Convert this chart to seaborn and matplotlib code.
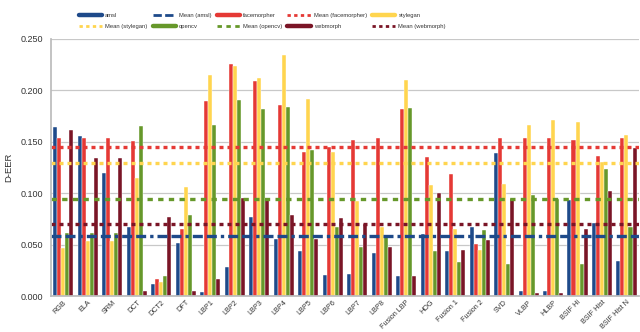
import matplotlib
matplotlib.use("Agg")
import matplotlib.pyplot as plt
import seaborn as sns
import pandas as pd
import numpy as np
from matplotlib.lines import Line2D

categories = ["RGB", "ELA", "SRM", "DCT", "DCT2", "DFT", "LBP1", "LBP2", "LBP3", "LBP4",
              "LBP5", "LBP6", "LBP7", "LBP8", "Fusion LBP", "HOG", "Fusion 1", "Fusion 2",
              "SVD", "VLBP", "HLBP", "BSIF Hi", "BSIF Hist", "BSIF Hist N"]

amsl = [0.164, 0.156, 0.120, 0.067, 0.012, 0.052, 0.004, 0.028, 0.077, 0.056,
        0.044, 0.021, 0.022, 0.042, 0.020, 0.060, 0.044, 0.067,
        0.139, 0.005, 0.005, 0.093, 0.071, 0.034]
facemorpher = [0.154, 0.154, 0.154, 0.151, 0.017, 0.065, 0.190, 0.226, 0.209, 0.186,
               0.140, 0.145, 0.152, 0.154, 0.182, 0.135, 0.119, 0.051,
               0.154, 0.154, 0.154, 0.152, 0.136, 0.154]
stylegan = [0.047, 0.054, 0.054, 0.115, 0.014, 0.106, 0.215, 0.224, 0.212, 0.234,
            0.192, 0.140, 0.092, 0.067, 0.210, 0.108, 0.065, 0.045,
            0.109, 0.166, 0.171, 0.169, 0.130, 0.157]
opencv = [0.061, 0.061, 0.061, 0.165, 0.020, 0.079, 0.166, 0.191, 0.182, 0.184,
          0.142, 0.067, 0.048, 0.059, 0.183, 0.044, 0.033, 0.064,
          0.031, 0.098, 0.094, 0.031, 0.124, 0.067]
webmorph = [0.161, 0.134, 0.134, 0.005, 0.077, 0.005, 0.017, 0.095, 0.095, 0.079,
            0.056, 0.076, 0.070, 0.048, 0.020, 0.100, 0.045, 0.055,
            0.094, 0.003, 0.003, 0.065, 0.102, 0.144]

series_names = ["amsl", "facemorpher", "stylegan", "opencv", "webmorph"]
series_values = [amsl, facemorpher, stylegan, opencv, webmorph]
mean_values = [0.058, 0.1448, 0.129, 0.094, 0.0703]
colors = ["#1E4A8A", "#E53935", "#FFD54F", "#66982A", "#7A1526"]
yticks = [0.000, 0.050, 0.100, 0.150, 0.200, 0.250]

rows = []
for name, vals in zip(series_names, series_values):
    for c, v in zip(categories, vals):
        rows.append({"method": c, "series": name, "D-EER": v})
df = pd.DataFrame(rows)

sns.set_theme(style="white")
plt.rcParams['font.family'] = ['Liberation Sans', 'DejaVu Sans']

fig = plt.figure(figsize=(6.4, 3.32), dpi=100)
ax = fig.add_axes([0.080, 0.108, 0.918, 0.775])

sns.barplot(data=df, x="method", y="D-EER", hue="series", order=categories,
            hue_order=series_names, palette=colors, saturation=1, width=0.82, ax=ax,
            edgecolor="white", linewidth=0.3, legend=False)

ax.set_ylim(0, 0.25)
ax.set_xlim(-0.5, len(categories) - 0.5)
ax.set_yticks(yticks)
ax.set_yticklabels([f"{t:.3f}" for t in yticks], fontsize=6.5, color="#333333")
ax.tick_params(axis="y", length=0, pad=6)
ax.yaxis.grid(True, color="#C8C8C8", linewidth=0.9)
ax.set_axisbelow(True)
ax.set_xlabel("")
ax.set_ylabel("D-EER", fontsize=6.8, color="#333333", labelpad=5)
ax.tick_params(axis="x", length=0, pad=2)
ax.set_xticks(range(len(categories)))
ax.set_xticklabels(categories, rotation=45, ha="right", rotation_mode="anchor",
                   fontsize=5.2, color="#333333")
ax.set_xticks(np.arange(-0.5, len(categories), 1.0), minor=True)
ax.tick_params(axis="x", which="minor", length=3, color="#BBBBBB", width=0.8)
for s in ["top", "right"]:
    ax.spines[s].set_visible(False)
ax.spines["left"].set_color("#BBBBBB")
ax.spines["bottom"].set_color("#BBBBBB")

dash_patterns = [(3, 1.2, 3, 1.2, 1, 1.2), (1.2, 1.2), (1.2, 1.2), (1.6, 1.6), (1.2, 1.2)]
for m, col, dp in zip(mean_values, colors, dash_patterns):
    ax.axhline(m, color=col, linewidth=2.4, dashes=dp)

row_handles = []
row_labels = []
for name, col, dp in zip(series_names, colors, dash_patterns):
    row_handles.append(Line2D([0], [0], color=col, linewidth=3.2))
    row_labels.append(name)
    row_handles.append(Line2D([0], [0], color=col, linewidth=2.0, dashes=dp))
    row_labels.append(f"Mean ({name})")

ncol = 5
order = []
for c in range(ncol):
    for r in range(2):
        order.append(r * ncol + c)
leg = fig.legend([row_handles[i] for i in order], [row_labels[i] for i in order],
                 ncol=ncol, loc="center", bbox_to_anchor=(0.41, 0.937), frameon=False,
                 fontsize=4.2, handlelength=4.0, columnspacing=0.9, handletextpad=0.5,
                 labelspacing=0.9)
for t in leg.get_texts():
    t.set_color("#333333")

fig.savefig("out.png", dpi=100)
